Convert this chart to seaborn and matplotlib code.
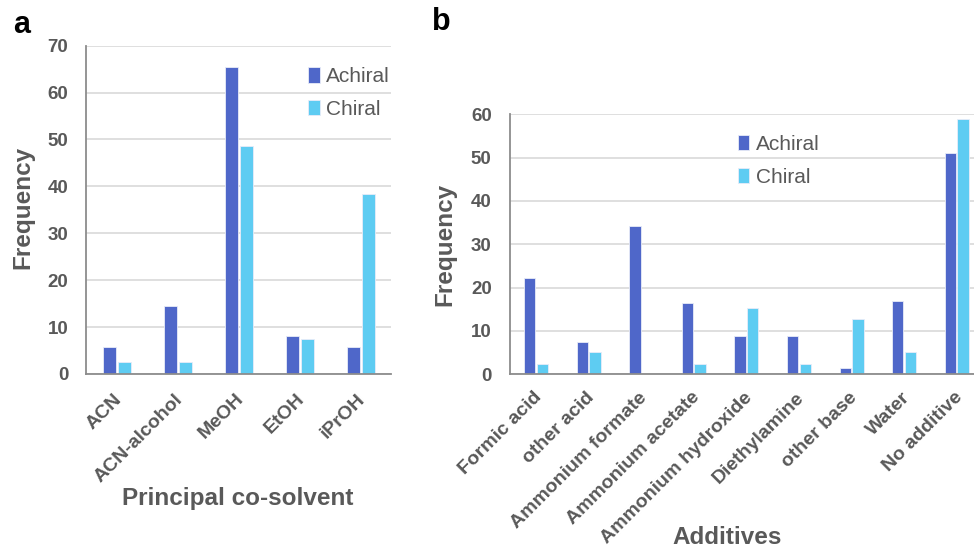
import numpy as np
import pandas as pd
import matplotlib
matplotlib.use("Agg")
import matplotlib.pyplot as plt
import matplotlib.transforms as mtrans
import seaborn as sns

# ---- data ----
solvents = ["ACN", "ACN-alcohol", "MeOH", "EtOH", "iPrOH"]
solv_achiral = [5.8, 14.6, 65.4, 8.0, 5.8]
solv_chiral = [2.5, 2.5, 48.7, 7.5, 38.4]

additives = ["Formic acid", "other acid", "Ammonium formate", "Ammonium acetate",
             "Ammonium hydroxide", "Diethylamine", "other base", "Water", "No additive"]
add_achiral = [22.3, 7.4, 34.3, 16.5, 8.9, 8.9, 1.45, 17.0, 51.1]
add_chiral = [2.45, 5.1, 0.0, 2.45, 15.3, 2.45, 12.8, 5.1, 59.0]

series = ["Achiral", "Chiral"]
colors = ["#4F67C9", "#5ECCF2"]

sns.set_theme(style="white")
plt.rcParams["font.family"] = ["Liberation Sans", "DejaVu Sans"]

TXT = "#595959"

df_a = pd.DataFrame({
    "cat": solvents * 2,
    "val": solv_achiral + solv_chiral,
    "type": [series[0]] * len(solvents) + [series[1]] * len(solvents),
})
df_b = pd.DataFrame({
    "cat": additives * 2,
    "val": add_achiral + add_chiral,
    "type": [series[0]] * len(additives) + [series[1]] * len(additives),
})

fig = plt.figure(figsize=(9.74, 5.51), dpi=100)
ax_a = fig.add_axes([86.3 / 974, (551 - 374) / 551, 305 / 974, 328.3 / 551])
ax_b = fig.add_axes([509.7 / 974, (551 - 374.3) / 551, 473.3 / 974, 260 / 551])


def style(ax, df, ymax, ystep, xlabel, xl_pos, yl_pos, leg_pos, xshift, xpad):
    sns.barplot(data=df, x="cat", y="val", hue="type", palette=colors,
                saturation=1, width=0.48, gap=0.1, ax=ax,
                edgecolor="#E8ECF8", linewidth=0.6, errorbar=None, zorder=3)
    ax.set_ylim(0, ymax)
    ax.set_yticks(np.arange(0, ymax + 1, ystep))
    ax.yaxis.grid(True, color="#D9D9D9", linewidth=1.2, zorder=0)
    ax.set_axisbelow(True)
    for s in ["top", "right"]:
        ax.spines[s].set_visible(False)
    for s in ["left", "bottom"]:
        ax.spines[s].set_color("#8C8C8C")
        ax.spines[s].set_linewidth(1.3)
        ax.spines[s].set_zorder(4)
    ax.tick_params(axis="both", length=0)
    ax.tick_params(axis="y", pad=13, labelsize=13.5, labelcolor=TXT)
    ax.tick_params(axis="x", pad=xpad, labelsize=14, labelcolor=TXT)
    for lab in ax.get_yticklabels():
        lab.set_fontweight("bold")
    off = mtrans.ScaledTranslation(xshift / 100, 0, fig.dpi_scale_trans)
    for lab in ax.get_xticklabels():
        lab.set_fontweight("bold")
        lab.set_rotation(45)
        lab.set_ha("right")
        lab.set_va("top")
        lab.set_rotation_mode("anchor")
        lab.set_transform(lab.get_transform() + off)
    ax.set_xlabel(xlabel, fontsize=17.5, fontweight="bold", color=TXT)
    ax.set_ylabel("Frequency", fontsize=17.5, fontweight="bold", color=TXT)
    ax.xaxis.set_label_coords(*xl_pos)
    ax.xaxis.label.set_va("center")
    ax.yaxis.set_label_coords(*yl_pos)
    ax.yaxis.label.set_va("center")
    ax.legend(loc="upper left", bbox_to_anchor=leg_pos, frameon=False,
              fontsize=15, labelcolor=TXT, handlelength=0.55, handleheight=0.75,
              handletextpad=0.3, labelspacing=0.66, borderpad=0, borderaxespad=0)


style(ax_a, df_a, 70, 10, "Principal co-solvent", (0.497, -0.378), (-0.209, 0.506),
      (0.728, 0.934), -4, 12)
style(ax_b, df_b, 60, 10, "Additives", (0.459, -0.628), (-0.137, 0.5),
      (0.482, 0.92), -3, 10.5)

fig.text(22 / 974, 1 - 25 / 551, "a", fontsize=22, fontweight="bold", color="black",
         ha="center", va="center")
fig.text(441 / 974, 1 - 22 / 551, "b", fontsize=22, fontweight="bold", color="black",
         ha="center", va="center")

fig.savefig("out.png", dpi=100)
